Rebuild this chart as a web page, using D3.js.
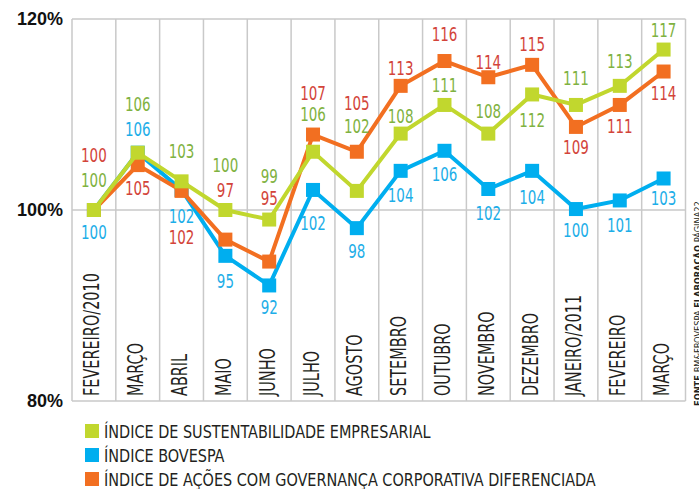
<!DOCTYPE html>
<html>
<head>
<meta charset="utf-8">
<script src="https://cdn.jsdelivr.net/npm/d3@7"></script>
<style>
  body { margin: 0; background: #fff; }
  svg { display: block; }
  .narrow { font-family: "Liberation Sans Narrow", "Arial Narrow", "DejaVu Sans Condensed", sans-serif; }
</style>
</head>
<body>
<div id="chart"></div>
<script>

// ---- data ----
var months = ["FEVEREIRO/2010", "MARÇO", "ABRIL", "MAIO", "JUNHO", "JULHO", "AGOSTO",
              "SETEMBRO", "OUTUBRO", "NOVEMBRO", "DEZEMBRO", "JANEIRO/2011", "FEVEREIRO", "MARÇO"];

// plotted values
var iseValues  = [100, 106, 103, 100, 99, 106.1, 102, 108, 111, 108, 112.1, 111, 113, 116.8];
var ibovValues = [100, 106, 102.1, 95.2, 92.1, 102.1, 98.1, 104.1, 106.2, 102.2, 104.1, 100.1, 101, 103.3];
var igcValues  = [100, 104.7, 102, 96.9, 94.6, 107.9, 106.1, 113, 115.6, 113.9, 115.2, 108.7, 111, 114.5];

// printed labels
var iseLabels  = [100, 106, 103, 100, 99, 106, 102, 108, 111, 108, 112, 111, 113, 117];
var ibovLabels = [100, 106, 102, 95, 92, 102, 98, 104, 106, 102, 104, 100, 101, 103];
var igcLabels  = [100, 105, 102, 97, 95, 107, 105, 113, 116, 114, 115, 109, 111, 114];

var yTicks = [80, 100, 120];

var legendNames = ["ÍNDICE DE SUSTENTABILIDADE EMPRESARIAL",
                   "ÍNDICE BOVESPA",
                   "ÍNDICE DE AÇÕES COM GOVERNANÇA CORPORATIVA DIFERENCIADA"];

// ---- layout ----
var W = 699, H = 489;
var plotLeft = 72, plotRight = 685.5, plotTop = 19, plotBottom = 401;

// label baseline offsets from marker centre (px)
var iseDy  = [-23, -42, -23, -38, -37, -31, -58, -11, -13, -16, 33, -20, -18, -13];
var ibovDy = [29, -17, 33, 32, 29, 40, 30, 31, 30, 31, 33, 28, 32, 27];
var igcDy  = [-48, 30, 53, -43, -57, -35, -42, -11, -20, -8, -14, 27, 28, 28];

var green = "#c1d72e", blue = "#00aeef", orange = "#f26f21";
var series = [
  {name: legendNames[1], values: ibovValues, labels: ibovLabels, dy: ibovDy, color: blue,   text: "#1daee8"},
  {name: legendNames[2], values: igcValues,  labels: igcLabels,  dy: igcDy,  color: orange, text: "#d3443a"},
  {name: legendNames[0], values: iseValues,  labels: iseLabels,  dy: iseDy,  color: green,  text: "#7fb241"}
];
var legendItems = [
  {name: legendNames[0], color: green},
  {name: legendNames[1], color: blue},
  {name: legendNames[2], color: orange}
];

var svg = d3.select("#chart").append("svg").attr("width", W).attr("height", H);

// the printed type is a tall condensed face: measure what we have and squeeze to fit
function squeeze(sample, size, target) {
  var t = svg.append("text").attr("class", "narrow").style("font-size", size + "px").text(sample);
  var len = t.node().getComputedTextLength();
  t.remove();
  return len > 0 ? target / len : 1;
}
var kValue  = squeeze("100", 19.5, 25.7);
var kMonth  = squeeze(months[0], 20.5, 123);
var kLegend = squeeze(legendNames[0], 18, 327);

var x = d3.scaleBand().domain(d3.range(months.length)).range([plotLeft, plotRight]);
var y = d3.scaleLinear().domain([80, 120]).range([plotBottom, plotTop]);
var cx = function(i) { return x(i) + x.bandwidth() / 2; };

// ---- grid ----
var grid = svg.append("g").attr("stroke", "#c9c9c9").attr("stroke-width", 1.5);
grid.selectAll(".h").data(yTicks).enter().append("line")
    .attr("x1", plotLeft).attr("x2", plotRight)
    .attr("y1", function(d) { return y(d); }).attr("y2", function(d) { return y(d); });
grid.selectAll(".v").data(d3.range(months.length + 1)).enter().append("line")
    .attr("x1", function(i) { return plotLeft + i * x.bandwidth(); })
    .attr("x2", function(i) { return plotLeft + i * x.bandwidth(); })
    .attr("y1", plotTop).attr("y2", plotBottom);

// y tick labels
svg.selectAll(".ytick").data(yTicks).enter().append("text")
    .attr("x", 63).attr("y", function(d) { return y(d); })
    .attr("dy", "0.36em")
    .attr("text-anchor", "end")
    .style("font-family", "'Liberation Sans', Arial, sans-serif")
    .style("font-weight", "bold").style("font-size", "18px").style("fill", "#111")
    .text(function(d) { return d + "%"; });

// month labels (rotated)
svg.selectAll(".month").data(months).enter().append("text")
    .attr("class", "narrow")
    .attr("transform", function(d, i) { return "translate(" + (cx(i) + 5.5) + "," + 396 + ") rotate(-90) scale(" + kMonth + ",1)"; })
    .style("font-size", "20.5px").style("fill", "#231f20")
    .text(function(d) { return d; });

// ---- lines ----
var line = d3.line().x(function(d, i) { return cx(i); }).y(function(d) { return y(d); });
var sz = 14;

series.forEach(function(s) {
  var g = svg.append("g");
  g.append("path").datum(s.values)
      .attr("d", line).attr("fill", "none")
      .attr("stroke", s.color).attr("stroke-width", 4).attr("stroke-linejoin", "miter");
  g.selectAll("rect").data(s.values).enter().append("rect")
      .attr("x", function(d, i) { return cx(i) - sz / 2; })
      .attr("y", function(d) { return y(d) - sz / 2; })
      .attr("width", sz).attr("height", sz)
      .attr("fill", s.color);
});

series.forEach(function(s) {
  svg.append("g").selectAll("text").data(s.labels).enter().append("text")
      .attr("class", "narrow")
      .attr("transform", function(d, i) {
        return "translate(" + cx(i) + "," + (y(s.values[i]) + s.dy[i]) + ") scale(" + kValue + ",1)";
      })
      .attr("text-anchor", "middle")
      .style("font-size", "19.5px").style("fill", s.text)
      .text(function(d) { return d; });
});

// ---- legend ----
var legend = svg.append("g");
legendItems.forEach(function(d, i) {
  var ly = 424 + i * 24;
  legend.append("rect").attr("x", 85).attr("y", ly).attr("width", 14).attr("height", 14).attr("fill", d.color);
  legend.append("text").attr("class", "narrow")
      .attr("transform", "translate(104," + (ly + 13.5) + ") scale(" + kLegend + ",1)")
      .style("font-size", "18px").style("fill", "#231f20")
      .text(d.name);
});

// ---- source (rotated, partly cut at the edge) ----
var src = svg.append("text")
    .attr("class", "narrow")
    .style("font-size", "9px").style("fill", "#231f20");
src.append("tspan").style("font-weight", "bold").text("FONTE ");
src.append("tspan").text("BM&FBOVESPA ");
src.append("tspan").style("font-weight", "bold").text("ELABORAÇÃO ");
src.append("tspan").text("PÁGINA22");
var kSrc = 205 / src.node().getComputedTextLength();
src.attr("transform", "translate(701,406) rotate(-90) scale(" + kSrc + ",1)");

</script>
</body>
</html>
